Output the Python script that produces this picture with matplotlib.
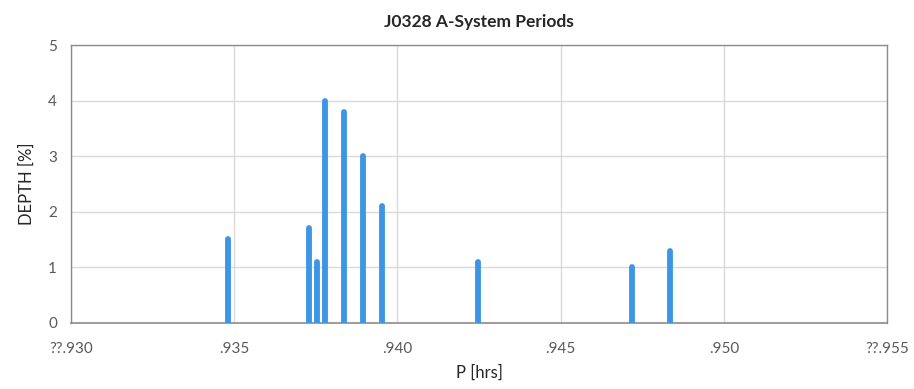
import matplotlib
matplotlib.use("Agg")
import matplotlib.pyplot as plt
from matplotlib.ticker import FixedLocator

# data
periods = [0.93482, 0.93728, 0.93753, 0.93777, 0.93835, 0.93894, 0.93952,
           0.94246, 0.94719, 0.94835]
depths = [1.5, 1.7, 1.1, 4.0, 3.8, 3.0, 2.1, 1.1, 1.0, 1.3]
x_ticks = [0.930, 0.935, 0.940, 0.945, 0.950, 0.955]
x_tick_labels = ["??.930", ".935", ".940", ".945", ".950", "??.955"]
y_ticks = [0, 1, 2, 3, 4, 5]

plt.rcParams["font.family"] = ["Lato", "DejaVu Sans"]

fig = plt.figure(figsize=(9.14, 3.89), dpi=100, facecolor="white")
ax = fig.add_axes([0.0777, 0.1704, 0.8928, 0.7139])

lc = ax.vlines(periods, 0, depths, color="#3d95e6", linewidth=4.2, zorder=3)
lc.set_capstyle("round")

ax.set_xlim(0.930, 0.955)
ax.set_ylim(0, 5)
ax.xaxis.set_major_locator(FixedLocator(x_ticks))
ax.set_xticklabels(x_tick_labels)
ax.set_yticks(y_ticks)
ax.tick_params(length=0, labelsize=11, colors="#595959")
ax.tick_params(axis="x", pad=14)
ax.tick_params(axis="y", pad=10)

ax.grid(True, color="#d9d9d9", linewidth=1)
ax.set_axisbelow(True)
for side in ["top", "right", "left"]:
    ax.spines[side].set_color("#8c8c8c")
    ax.spines[side].set_linewidth(1)
ax.spines["bottom"].set_color("#8c8c8c")
ax.spines["bottom"].set_linewidth(1.2)

ax.set_xlabel("P [hrs]", fontsize=12, color="#262626", labelpad=6)
ax.set_ylabel("DEPTH [%]", fontsize=12, color="#262626", labelpad=10)
ax.set_title("J0328 A-System Periods", fontsize=12.5, fontweight="bold",
             color="#262626", pad=13)

fig.savefig("out.png", dpi=100, facecolor="white")
